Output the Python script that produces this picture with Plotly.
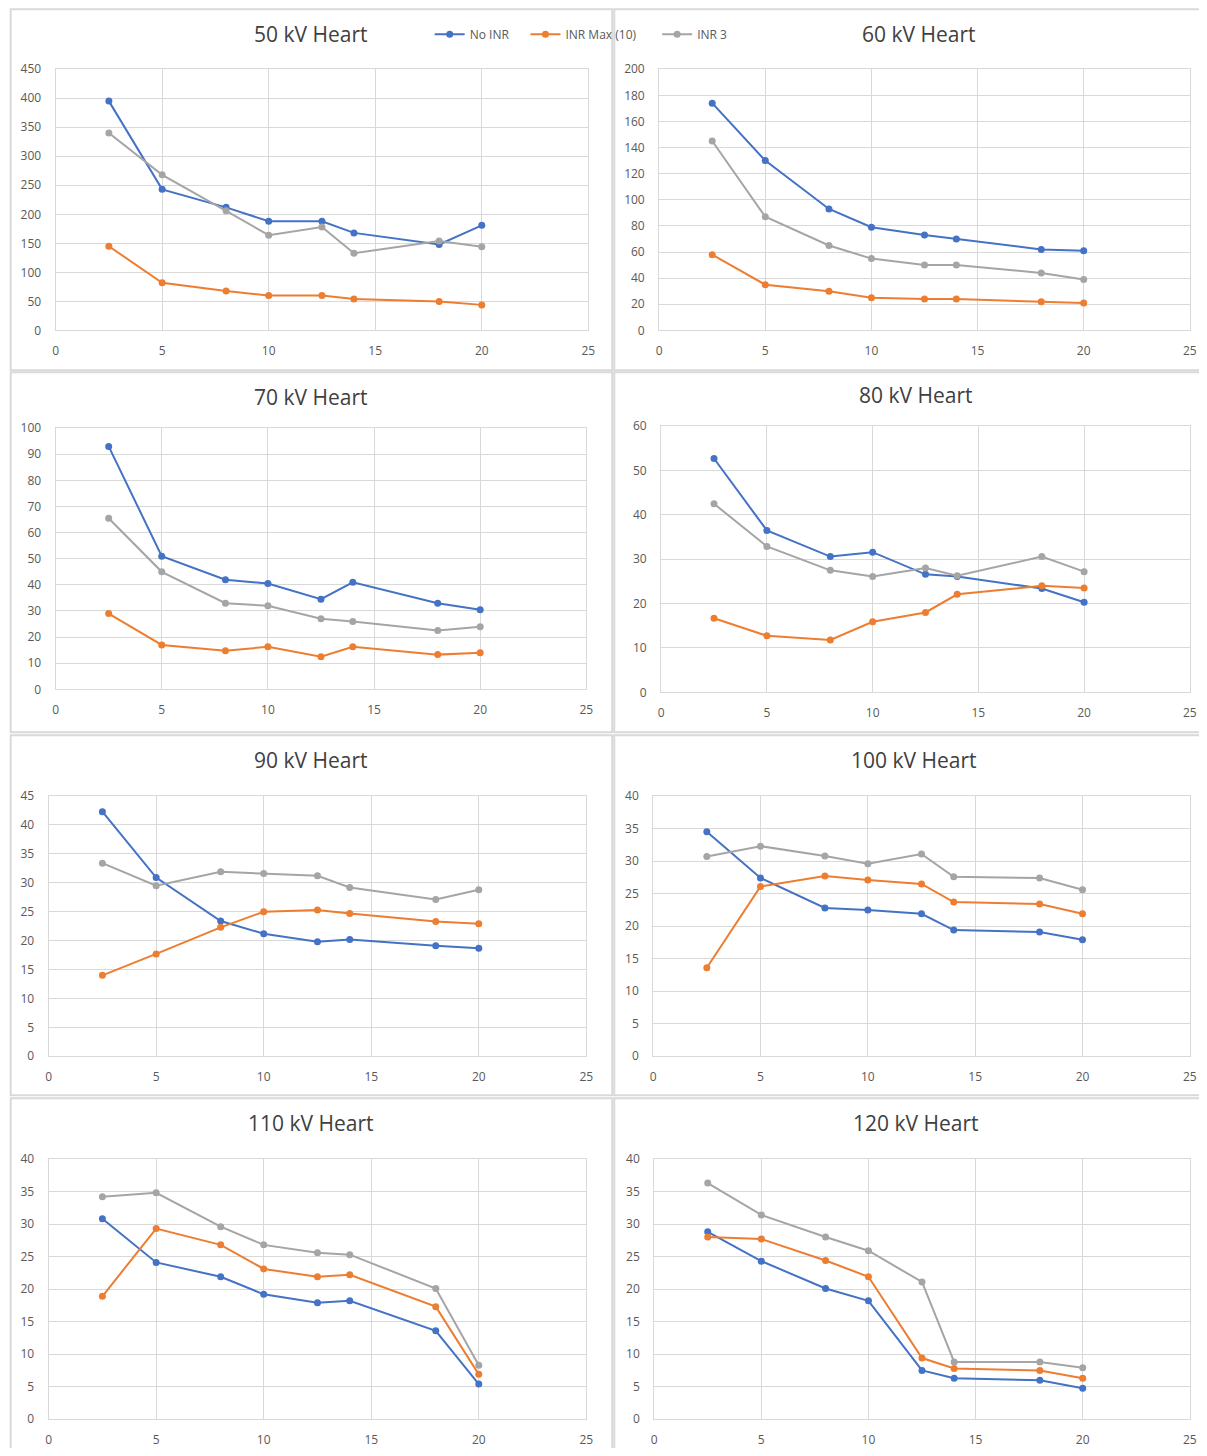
import plotly.graph_objects as go

# Page has an 8px body margin; the figure is sized so that the page is about 1207x1456.
OFF = 8
FW, FH = 1207 - 2 * OFF, 1456 - 2 * OFF
# empirical screen calibration (screen = S * page + B)
SX, BX = 0.994, 0.34
SY, BY = 0.989, 7.75

# ---------------- data ----------------
x_thickness = [2.5, 5, 8, 10, 12.5, 14, 18, 20]
series_names = ["No INR", "INR Max (10)", "INR 3"]
panel_titles = ["50 kV Heart", "60 kV Heart", "70 kV Heart", "80 kV Heart",
                "90 kV Heart", "100 kV Heart", "110 kV Heart", "120 kV Heart"]
y_max = [450, 200, 100, 60, 45, 40, 40, 40]
y_step = [50, 20, 10, 10, 5, 5, 5, 5]

no_inr_50 = [395, 243, 212, 188, 188, 168, 148, 181]
inr_max_50 = [145, 82, 68, 60, 60, 54, 50, 44]
inr3_50 = [340, 268, 206, 164, 178, 133, 154, 144]

no_inr_60 = [174, 130, 93, 79, 73, 70, 62, 61]
inr_max_60 = [58, 35, 30, 25, 24, 24, 22, 21]
inr3_60 = [145, 87, 65, 55, 50, 50, 44, 39]

no_inr_70 = [93, 51, 42, 40.5, 34.5, 41, 33, 30.5]
inr_max_70 = [29, 17, 14.8, 16.3, 12.5, 16.3, 13.3, 14]
inr3_70 = [65.5, 45, 33, 32, 27, 26, 22.5, 24]

no_inr_80 = [52.7, 36.5, 30.6, 31.6, 26.6, 26.1, 23.4, 20.3]
inr_max_80 = [16.7, 12.75, 11.8, 15.9, 18, 22.1, 24, 23.5]
inr3_80 = [42.5, 32.9, 27.5, 26.1, 28, 26.3, 30.6, 27.2]

no_inr_90 = [42.3, 30.9, 23.4, 21.2, 19.8, 20.2, 19.1, 18.7]
inr_max_90 = [14.0, 17.7, 22.3, 25.0, 25.3, 24.7, 23.3, 22.9]
inr3_90 = [33.4, 29.5, 31.9, 31.6, 31.2, 29.2, 27.1, 28.8]

no_inr_100 = [34.5, 27.4, 22.8, 22.5, 21.9, 19.4, 19.1, 17.9]
inr_max_100 = [13.6, 26.1, 27.7, 27.1, 26.5, 23.7, 23.4, 21.9]
inr3_100 = [30.7, 32.3, 30.8, 29.6, 31.1, 27.6, 27.4, 25.6]

no_inr_110 = [30.8, 24.1, 21.9, 19.2, 17.9, 18.2, 13.6, 5.4]
inr_max_110 = [18.9, 29.3, 26.8, 23.1, 21.9, 22.2, 17.3, 6.9]
inr3_110 = [34.2, 34.8, 29.6, 26.8, 25.6, 25.3, 20.1, 8.3]

no_inr_120 = [28.8, 24.3, 20.1, 18.2, 7.5, 6.3, 6.0, 4.75]
inr_max_120 = [28.0, 27.7, 24.4, 21.9, 9.4, 7.8, 7.5, 6.3]
inr3_120 = [36.3, 31.4, 28.0, 25.9, 21.1, 8.8, 8.8, 7.9]

panel_series = [
    (no_inr_50, inr_max_50, inr3_50),
    (no_inr_60, inr_max_60, inr3_60),
    (no_inr_70, inr_max_70, inr3_70),
    (no_inr_80, inr_max_80, inr3_80),
    (no_inr_90, inr_max_90, inr3_90),
    (no_inr_100, inr_max_100, inr3_100),
    (no_inr_110, inr_max_110, inr3_110),
    (no_inr_120, inr_max_120, inr3_120),
]

# ---------------- layout geometry (target screen pixels) ----------------
colors = ["#4472C4", "#ED7D31", "#A5A5A5"]
plot_boxes = [  # x0, x1, y0(top), y1(bottom)
    (53, 587, 68, 330),
    (658, 1190, 68, 330),
    (53, 585, 428, 690),
    (660, 1190, 426, 693),
    (46, 585, 797, 1058),
    (652, 1190, 797, 1058),
    (46, 585, 1161, 1422),
    (653, 1190, 1161, 1422),
]
title_pos = [(309, 33), (918, 33), (309, 397), (915, 395),
             (309, 761), (913, 761), (309, 1125), (915, 1125)]
legend_x = [428, 524, 656]
legend_ids = ["legend", "legend2", "legend3"]
chart_frames = [(8, 611, 8, 370), (613, 1205, 8, 370),
                (8, 611, 372, 733), (613, 1205, 372, 733),
                (8, 611, 736, 1097), (613, 1205, 736, 1097),
                (8, 611, 1100, 1460), (613, 1205, 1100, 1460)]


def px(x):
    page = (x - BX) / SX
    return (page - OFF) / FW


def py(y):
    page = (y - BY) / SY
    return 1 - (page - OFF) / FH


fig = go.Figure()
layout = dict(
    width=FW, height=FH,
    margin=dict(l=0, r=0, t=0, b=0),
    paper_bgcolor="white", plot_bgcolor="white",
    font=dict(family="Open Sans, Liberation Sans, sans-serif", color="#595959", size=12),
    showlegend=True,
    shapes=[], annotations=[],
)
for lid, lx in zip(legend_ids, legend_x):
    layout[lid] = dict(orientation="h", x=px(lx), y=py(33), xanchor="left", yanchor="middle",
                       font=dict(size=12, color="#595959"), bgcolor="rgba(0,0,0,0)",
                       itemwidth=30)

for i, (series, box) in enumerate(zip(panel_series, plot_boxes)):
    n = i + 1
    xa = "x" if n == 1 else f"x{n}"
    ya = "y" if n == 1 else f"y{n}"
    for vals, name, col, lid in zip(series, series_names, colors, legend_ids):
        fig.add_trace(go.Scatter(
            x=x_thickness, y=vals, mode="lines+markers", name=name,
            line=dict(color=col, width=2), marker=dict(color=col, size=7),
            xaxis=xa, yaxis=ya, showlegend=(i == 0), legendgroup=name, legend=lid,
        ))
    x0, x1, y0, y1 = box
    axis_common = dict(showgrid=True, gridcolor="#D9D9D9", gridwidth=1,
                       zeroline=False, showline=True, mirror=True,
                       linecolor="#D9D9D9", linewidth=1, ticks="",
                       tickfont=dict(size=12, color="#595959"))
    layout["xaxis" if n == 1 else f"xaxis{n}"] = dict(
        domain=[px(x0), min(px(x1), 1.0)], anchor=ya, range=[0, 25], dtick=5, tick0=0,
        ticklabelstandoff=9, **axis_common)
    layout["yaxis" if n == 1 else f"yaxis{n}"] = dict(
        domain=[py(y1), py(y0)], anchor=xa, range=[0, y_max[i]],
        dtick=y_step[i], tick0=0, ticklabelstandoff=11, **axis_common)
    tx, ty = title_pos[i]
    layout["annotations"].append(dict(
        text=panel_titles[i], x=px(tx), y=py(ty), xref="paper", yref="paper",
        showarrow=False, xanchor="center", yanchor="middle",
        font=dict(size=21, color="#404040")))

for (fx0, fx1, fy0, fy1) in chart_frames:
    layout["shapes"].append(dict(
        type="rect", xref="paper", yref="paper",
        x0=px(fx0), x1=px(fx1), y0=py(fy1), y1=py(fy0),
        line=dict(color="#D9D9D9", width=2), fillcolor="rgba(0,0,0,0)", layer="below"))

fig.update_layout(**layout)
fig.write_html("out.html")
